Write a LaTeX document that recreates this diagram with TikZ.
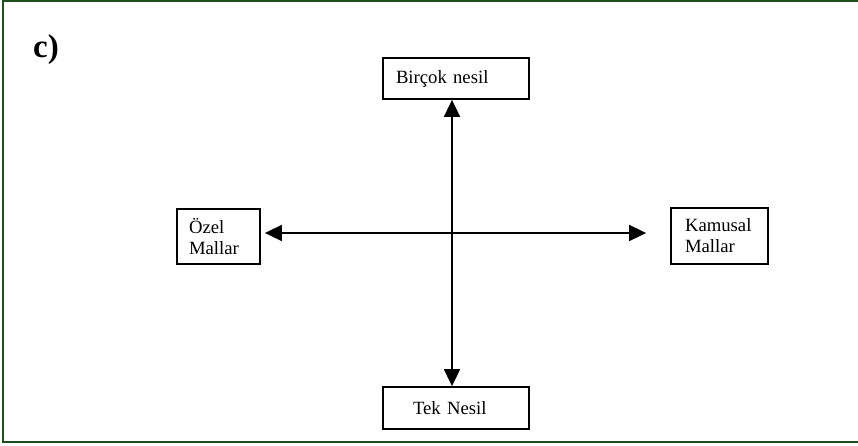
\documentclass[tikz,border=0pt]{standalone}
\usepackage{fontspec}
\setmainfont{Liberation Serif}
\usetikzlibrary{arrows.meta,calc}
\definecolor{framegreen}{RGB}{30,78,30}
\begin{document}
\begin{tikzpicture}[x=1pt,y=-1pt,
  box/.style={draw=black,line width=1.8pt,rectangle,align=left,font=\fontsize{18.7}{21}\selectfont,inner ysep=0pt},
  arr/.style={line width=1.8pt,{Triangle[length=17pt,width=16pt]}-{Triangle[length=17pt,width=16pt]}}]
\useasboundingbox (0,0) rectangle (858,445);
\draw[framegreen,line width=2.2pt] (3,1) rectangle (866,442);
\node[font=\fontsize{33}{36}\selectfont\bfseries,anchor=base west,inner sep=0pt] (lbl) at (33,57) {c)};
\node[box,inner xsep=13pt,text width=120pt,minimum height=41pt] (bn) at (456,78.5) {Birçok nesil};
\node[box,inner xsep=30pt,text width=86pt,minimum height=42pt] (tn) at (456,408) {Tek Nesil};
\node[box,inner xsep=12pt,text width=59pt,minimum height=55pt] (oz) at (218.5,236.5) {Özel\\Mallar};
\node[box,inner xsep=14pt,text width=69pt,minimum height=56pt] (km) at (719.5,236) {Kamusal\\Mallar};
\coordinate (hl) at (452,233);
\draw[arr] (bn.south -| hl) -- (tn.north -| hl);
\draw[arr] ($(oz.east |- hl)+(4,0)$) -- ($(km.west |- hl)+(-24,0)$);
\end{tikzpicture}
\end{document}
